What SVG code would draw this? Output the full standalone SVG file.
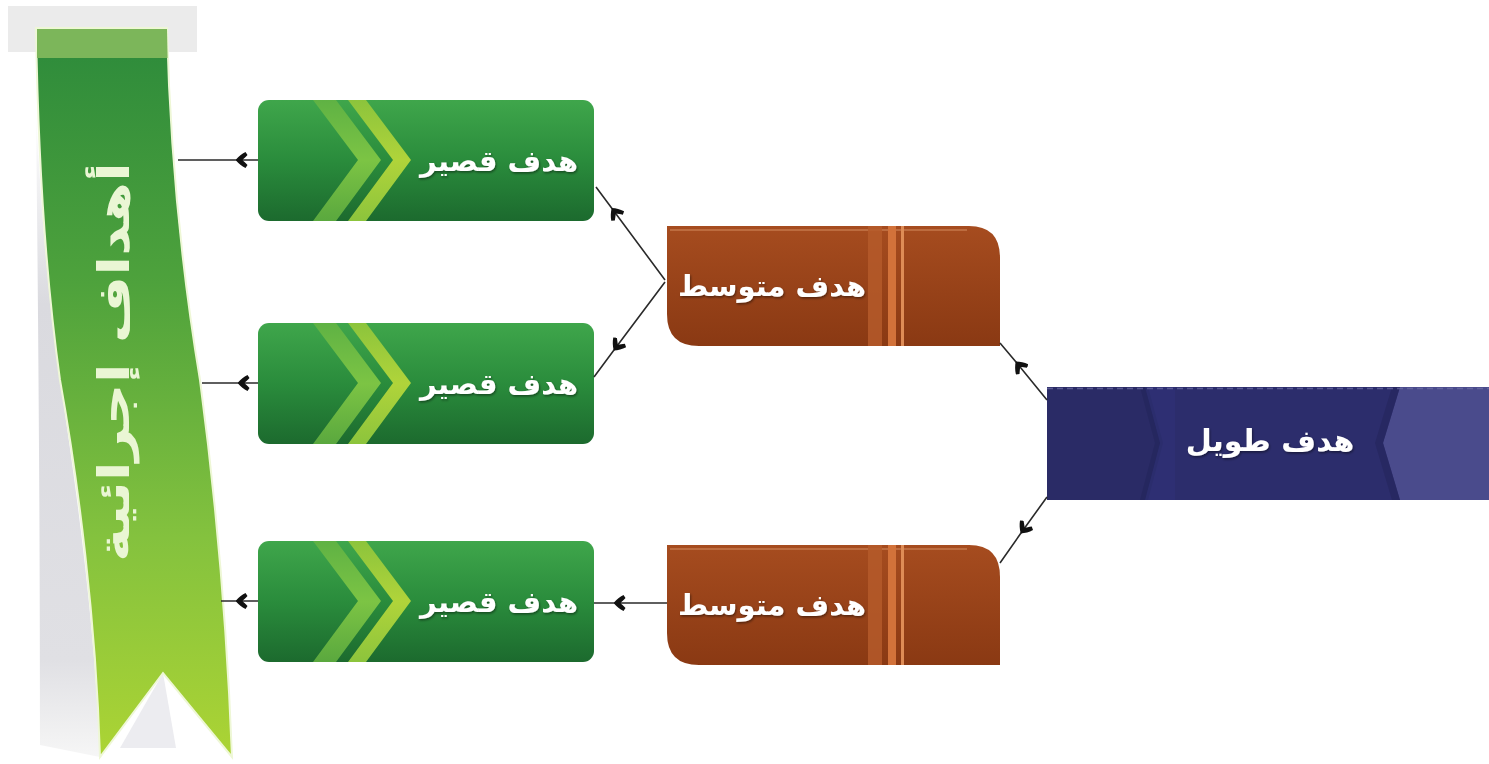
<svg xmlns="http://www.w3.org/2000/svg" width="1489" height="764" viewBox="0 0 1489 764">
  <defs>
    <style>
      .lbl { font-family: "DejaVu Sans", "Noto Sans", sans-serif; font-weight: bold; fill: #ffffff; text-anchor: middle; }
      .conn { fill: none; stroke: #2a2a2a; stroke-width: 1.6; marker-mid: url(#ah); }
    </style>
    <marker id="ah" viewBox="0 0 12 16" refX="11.5" refY="8" markerWidth="12" markerHeight="16" markerUnits="userSpaceOnUse" orient="auto">
      <path d="M12,8 C9,4.5 6,2 2,0 L0,3 C2,5 3.5,6.5 5,8 C3.5,9.5 2,11 0,13 L2,16 C6,14 9,11.5 12,8 Z" fill="#111"/>
    </marker>
    <linearGradient id="gGreen" x1="0" y1="0" x2="0" y2="1">
      <stop offset="0" stop-color="#3fa64b"/>
      <stop offset="0.5" stop-color="#2a8c3c"/>
      <stop offset="1" stop-color="#1c6a2e"/>
    </linearGradient>
    <linearGradient id="gBrown" x1="0" y1="0" x2="0" y2="1">
      <stop offset="0" stop-color="#a64c1f"/>
      <stop offset="1" stop-color="#8a3913"/>
    </linearGradient>
    <linearGradient id="gRibbon" x1="0" y1="0" x2="0" y2="1">
      <stop offset="0" stop-color="#2c8a3b"/>
      <stop offset="0.35" stop-color="#4ea23c"/>
      <stop offset="0.7" stop-color="#84c23e"/>
      <stop offset="1" stop-color="#acd434"/>
    </linearGradient>
    <linearGradient id="gShadow" x1="0" y1="0" x2="0" y2="1">
      <stop offset="0" stop-color="#ffffff"/>
      <stop offset="0.3" stop-color="#dadadf"/>
      <stop offset="0.85" stop-color="#e0e0e4"/>
      <stop offset="1" stop-color="#f6f6f6"/>
    </linearGradient>
    <linearGradient id="gChev1" x1="0" y1="0" x2="0" y2="1">
      <stop offset="0" stop-color="#5fb244"/>
      <stop offset="0.5" stop-color="#7cc444"/>
      <stop offset="1" stop-color="#5aa83e"/>
    </linearGradient>
    <linearGradient id="gChev2" x1="0" y1="0" x2="0" y2="1">
      <stop offset="0" stop-color="#8cc43c"/>
      <stop offset="0.5" stop-color="#b0d43a"/>
      <stop offset="1" stop-color="#8cc43c"/>
    </linearGradient>
    <clipPath id="clipGreen">
      <rect x="0" y="0" width="336" height="121" rx="11"/>
    </clipPath>
    <filter id="ts" x="-10%" y="-30%" width="120%" height="160%">
      <feDropShadow dx="1" dy="1.5" stdDeviation="1" flood-color="#000" flood-opacity="0.45"/>
    </filter>
    <g id="greenBox">
      <rect x="0" y="0" width="336" height="121" rx="11" fill="url(#gGreen)"/>
      <g clip-path="url(#clipGreen)">
        <polygon points="55,0 78,0 123,60 78,121 55,121 100,60" fill="url(#gChev1)"/>
        <polygon points="90,0 108,0 153,60 108,121 90,121 135,60" fill="url(#gChev2)"/>
      </g>
    </g>
    <g id="brownBox">
      <path d="M0,0 H302 Q333,0 333,32 V120 H32 Q0,120 0,88 Z" fill="url(#gBrown)"/>
      <path d="M3,4 H300" stroke="#d28a5e" stroke-width="1.5" opacity="0.7"/>
      <rect x="201" y="0" width="14" height="120" fill="#b55a2a" opacity="0.85"/>
      <rect x="221" y="0" width="8" height="120" fill="#d2723a"/>
      <rect x="234" y="0" width="3" height="120" fill="#de8c56"/>
    </g>
  </defs>

  <rect x="0" y="0" width="1489" height="764" fill="#ffffff"/>

  <!-- Ribbon -->
  <g id="ribbon">
    <rect x="8" y="6" width="189" height="46" fill="#ebebeb"/>
    <path d="M36,110 C38,300 40,500 40,745 L100,757 C95,620 75,480 60,380 C45,280 38,150 36,110 Z" fill="url(#gShadow)"/>
    <path d="M163,673 L120,748 L176,748 Z" fill="#ececf0"/>
    <path d="M36,28 L167,28 C170,150 180,260 200,380 C212,470 226,600 232,757 L163,673 L100,757 C96,620 78,480 60,380 C46,280 38,150 36,28 Z" fill="url(#gRibbon)" stroke="#eef7d6" stroke-width="2"/>
    <path d="M37,29 L167,29 L167.6,58 L37,58 Z" fill="#7cb65a"/>
    <text class="lbl" transform="translate(129,362) rotate(-90)" font-size="44" textLength="400" lengthAdjust="spacingAndGlyphs" style="fill:#eaf6d4">أهداف إجرائية</text>
  </g>

  <!-- Green short-goal boxes -->
  <g id="short1">
    <use href="#greenBox" x="258" y="100"/>
    <text class="lbl" x="499" y="171" font-size="29" filter="url(#ts)">هدف قصير</text>
  </g>
  <g id="short2">
    <use href="#greenBox" x="258" y="323"/>
    <text class="lbl" x="499" y="394" font-size="29" filter="url(#ts)">هدف قصير</text>
  </g>
  <g id="short3">
    <use href="#greenBox" x="258" y="541"/>
    <text class="lbl" x="499" y="612" font-size="29" filter="url(#ts)">هدف قصير</text>
  </g>

  <!-- Brown mid-goal boxes -->
  <g id="mid1">
    <use href="#brownBox" x="667" y="226"/>
    <text class="lbl" x="772" y="296" font-size="29" filter="url(#ts)">هدف متوسط</text>
  </g>
  <g id="mid2">
    <use href="#brownBox" x="667" y="545"/>
    <text class="lbl" x="772" y="615" font-size="29" filter="url(#ts)">هدف متوسط</text>
  </g>

  <!-- Blue long-goal box -->
  <g id="long">
    <rect x="1047" y="387" width="442" height="113" fill="#2c2d6c"/>
    <polygon points="1047,387 1145,387 1160,443 1145,500 1047,500" fill="#2a2b66"/>
    <polygon points="1140,387 1148,387 1163,443 1148,500 1140,500 1155,443" fill="#23245a" opacity="0.6"/>
    <polygon points="1160,443 1145,387 1175,387 1175,500 1145,500" fill="#30327a" opacity="0.5"/>
    <polygon points="1400,387 1489,387 1489,500 1400,500 1383,443" fill="#4a4b8c"/>
    <polygon points="1392,387 1400,387 1383,443 1400,500 1392,500 1375,443" fill="#24255c" opacity="0.6"/>
    <line x1="1047" y1="388.5" x2="1489" y2="388.5" stroke="#7070a8" stroke-width="1.5" stroke-dasharray="6,4" opacity="0.7"/>
    <text class="lbl" x="1270" y="451" font-size="30" filter="url(#ts)">هدف طويل</text>
  </g>

  <!-- Connectors -->
  <g id="connectors">
    <polyline class="conn" points="258,160 236,160 178,160"/>
    <polyline class="conn" points="258,383 238,383 202,383"/>
    <polyline class="conn" points="258,601 236,601 221,601"/>
    <polyline class="conn" points="665,280 612,208.4 596,187"/>
    <polyline class="conn" points="665,282 614,350 594,377"/>
    <polyline class="conn" points="667,603 614,603 594,603"/>
    <polyline class="conn" points="1047,400 1016,362 1000,343"/>
    <polyline class="conn" points="1047,497 1021,533 1000,563"/>
  </g>
</svg>
